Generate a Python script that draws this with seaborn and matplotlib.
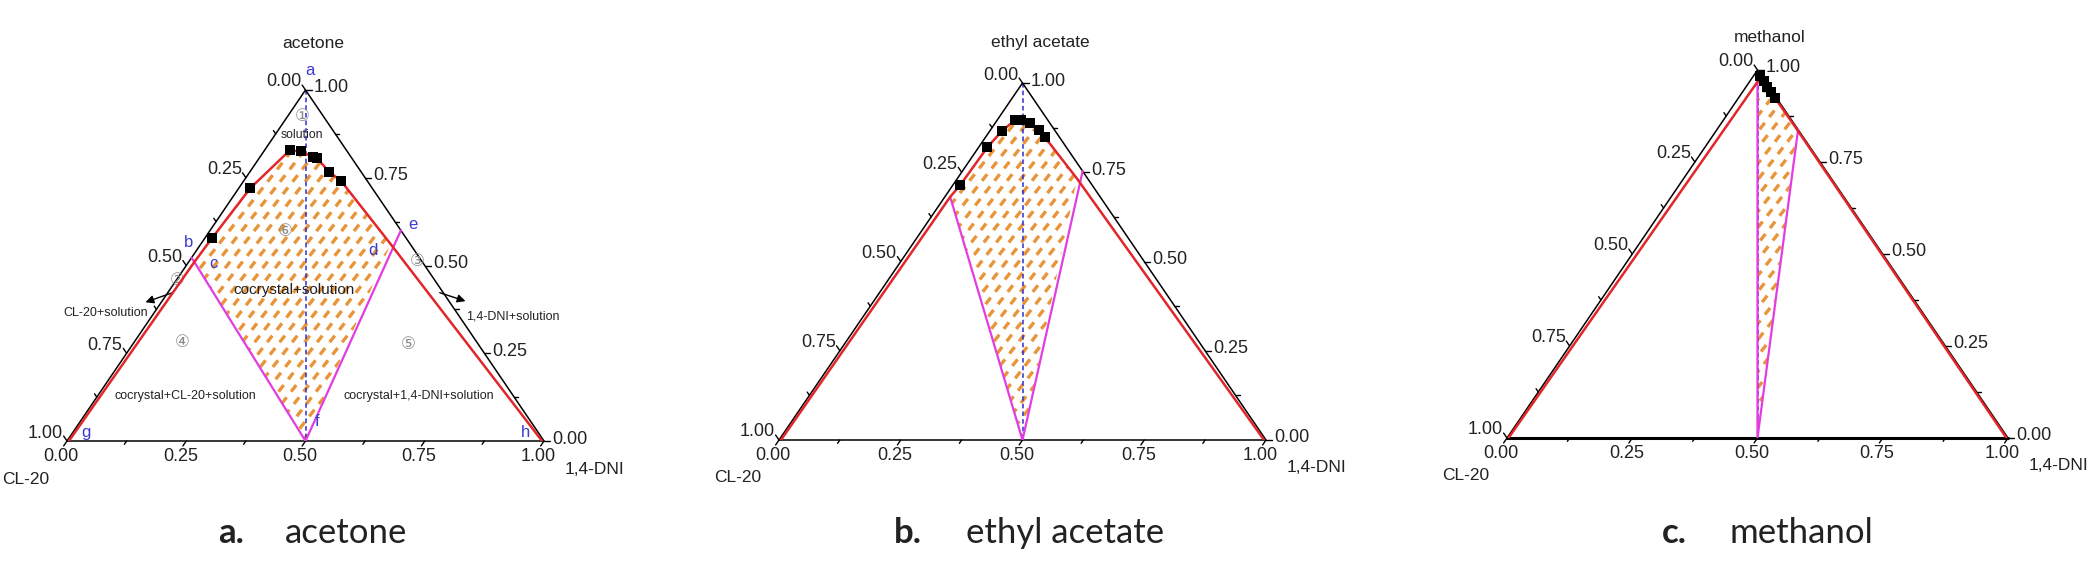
import numpy as np
import matplotlib
matplotlib.use("Agg")
import matplotlib.pyplot as plt
from matplotlib.patches import Polygon
import seaborn as sns

sns.set_style("white")
plt.rcParams["font.family"] = ["Liberation Sans", "DejaVu Sans", "Noto Sans CJK SC"]

W, HPX = 2098, 571
H = np.sqrt(3) / 2

# ---- data: compositions as (solvent fraction, 1,4-DNI fraction) ----
SOLVENTS = ["acetone", "ethyl acetate", "methanol"]
LETTERS = ["a.", "b.", "c."]

# measured solubility points (black squares)
ACE_SQ_SOLV = [0.577, 0.720, 0.828, 0.825, 0.809, 0.805, 0.767, 0.741]
ACE_SQ_DNI = [0.015, 0.024, 0.053, 0.078, 0.111, 0.122, 0.166, 0.204]
EA_SQ_SOLV = [0.713, 0.820, 0.866, 0.897, 0.897, 0.889, 0.867, 0.848]
EA_SQ_DNI = [0.015, 0.018, 0.025, 0.037, 0.048, 0.070, 0.100, 0.122]
MEOH_SQ_SOLV = [0.985, 0.970, 0.955, 0.940, 0.925]
MEOH_SQ_DNI = [0.012, 0.027, 0.042, 0.057, 0.072]

# invariant / key points of each phase diagram
ACE_KEY = {"g": (0.0, 0.004), "b": (0.522, 0.0), "c": (0.510, 0.012),
           "d": (0.561, 0.398), "e": (0.600, 0.400), "f": (0.0, 0.5), "h": (0.0, 0.996)}
EA_KEY = {"g": (0.0, 0.004), "c": (0.681, 0.011), "d": (0.732, 0.246),
          "e": (0.753, 0.247), "f": (0.0, 0.5), "h": (0.0, 0.996)}
MEOH_KEY = {"g": (0.0, 0.003), "c": (0.968, 0.016), "d": (0.838, 0.160),
            "e": (0.838, 0.162), "f": (0.0, 0.5), "h": (0.0, 0.997)}

SQ_SOLV = [ACE_SQ_SOLV, EA_SQ_SOLV, MEOH_SQ_SOLV]
SQ_DNI = [ACE_SQ_DNI, EA_SQ_DNI, MEOH_SQ_DNI]
KEYS = [ACE_KEY, EA_KEY, MEOH_KEY]

TICKS = np.arange(0, 1.0001, 0.125)

# ---- layout (pixels) ----
BOX_PX = [(67, 544, 90, 441), (779, 1266, 83, 440), (1507, 2008, 70, 438)]
TITLE_PX = [(313, 43), (1040, 43), (1770, 37)]
CAPTION_PX = [(218, 285), (894, 966), (1662, 1729)]

RED = "#e2262b"
MAGENTA = "#e23ce2"
BLUE = "#2e2ecf"
ORANGE = "#e8953a"
LBLUE = "#3b3bd0"
GRAY = "#8a8a8a"


def to_xy(s, d):
    s = np.asarray(s, dtype=float)
    d = np.asarray(d, dtype=float)
    return d + 0.5 * s, s * H


def line(ax, pts, **kw):
    xs, ys = to_xy([p[0] for p in pts], [p[1] for p in pts])
    sns.lineplot(x=xs, y=ys, sort=False, estimator=None, ax=ax, **kw)


def hatch(ax, verts, sx, sy):
    poly = Polygon(verts, closed=True, facecolor="none", edgecolor="none")
    ax.add_patch(poly)
    th = np.deg2rad(52)
    length = H * sy / np.sin(th)
    ux, uy = np.cos(th) / sx * length, np.sin(th) / sy * length
    for x0 in np.arange(-1.0, 1.2, 12.5 / sx):
        ln, = ax.plot([x0, x0 + ux], [0, uy], color=ORANGE, lw=2.4,
                      dashes=(2.5, 2.2), solid_capstyle="butt", zorder=1)
        ln.set_clip_path(poly)


def lab(ax, text, xy, off, **kw):
    ax.annotate(text, xy=xy, xytext=off, textcoords="offset pixels",
                annotation_clip=False, **kw)


fig = plt.figure(figsize=(W / 100, HPX / 100), dpi=100)

for i in range(3):
    x0, x1, ytop, ybot = BOX_PX[i]
    ax = fig.add_axes([x0 / W, 1 - ybot / HPX, (x1 - x0) / W, (ybot - ytop) / HPX])
    ax.set_xlim(0, 1)
    ax.set_ylim(0, H)
    ax.axis("off")
    sx = x1 - x0
    sy = (ybot - ytop) / H
    key = KEYS[i]

    # triangle frame
    ax.plot([0, 1, 0.5, 0], [0, 0, H, 0], color="black", lw=1.1, zorder=3, clip_on=False)
    if i == 2:
        ax.plot([0, 1], [0, 0], color="black", lw=2.2, zorder=3, clip_on=False)

    # ticks and tick labels
    vb = np.array([-sx / 2, -sy * H]); vb /= np.linalg.norm(vb)
    vl = np.array([-sx / 2, sy * H]); vl /= np.linalg.norm(vl)
    for t in TICKS:
        major = abs(t * 4 - round(t * 4)) < 1e-6
        L = 6 if major else 4
        # bottom axis: 1,4-DNI
        px, py = t, 0.0
        ax.plot([px, px + vb[0] * L / sx], [py, py + vb[1] * L / sy], color="black", lw=1, clip_on=False)
        if major:
            lab(ax, f"{t:.2f}", (px, py), (-6, -7), ha="center", va="top", fontsize=13, color="#222222")
        # left axis: CL-20
        px, py = to_xy(1 - t, 0.0)
        ax.plot([px, px + vl[0] * L / sx], [py, py + vl[1] * L / sy], color="black", lw=1, clip_on=False)
        if major:
            lab(ax, f"{t:.2f}", (px, py), (-4, 8), ha="right", va="center", fontsize=13, color="#222222")
        # right axis: solvent
        px, py = to_xy(t, 1 - t)
        ax.plot([px, px + L / sx], [py, py], color="black", lw=1, clip_on=False)
        if major:
            lab(ax, f"{t:.2f}", (px, py), (8, 2), ha="left", va="center", fontsize=13, color="#222222")

    lab(ax, "CL-20", (0, 0), (-41, -38), ha="center", va="center", fontsize=12.5, color="#222222")
    lab(ax, "1,4-DNI", (1, 0), (50, -28), ha="center", va="center", fontsize=12.5, color="#222222")

    squares = list(zip(SQ_SOLV[i], SQ_DNI[i]))

    # cocrystal + solution region (hatched)
    region = [key["c"]] + squares + [key["d"], key["f"]]
    vx, vy = to_xy([p[0] for p in region], [p[1] for p in region])
    hatch(ax, np.column_stack([vx, vy]), sx, sy)

    # blue dashed line from solvent apex to 1:1 point
    line(ax, [(1.0, 0.0), key["f"]], color=BLUE, lw=1.1, dashes=(3, 2), zorder=2)

    # tie lines (magenta)
    tie = ([key["b"]] if "b" in key else []) + [key["c"], key["f"], key["e"]]
    line(ax, tie, color=MAGENTA, lw=1.6, zorder=3)

    # solubility curve (red)
    curve = [key["g"], key["c"]] + squares + [key["d"], key["h"]]
    line(ax, curve, color=RED, lw=1.8, zorder=4)

    sx_pts, sy_pts = to_xy(SQ_SOLV[i], SQ_DNI[i])
    sns.scatterplot(x=sx_pts, y=sy_pts, marker="s", s=48, color="black",
                    edgecolor="black", linewidth=0, ax=ax, zorder=5)

    if i == 0:
        for name, xy in {"a": (0.509, 0.915), "b": (0.254, 0.489), "c": (0.306, 0.439),
                         "d": (0.641, 0.471), "e": (0.725, 0.533), "f": (0.524, 0.047),
                         "g": (0.040, 0.022), "h": (0.962, 0.022)}.items():
            ax.text(*xy, name, color=LBLUE, fontsize=12, ha="center", va="center", clip_on=False)
        for name, xy in {"①": (0.493, 0.800), "②": (0.231, 0.397), "③": (0.734, 0.442),
                         "④": (0.241, 0.244), "⑤": (0.715, 0.237), "⑥": (0.457, 0.516)}.items():
            ax.text(*xy, name, color=GRAY, fontsize=12, ha="center", va="center", clip_on=False)
        notes = {"solution": ((0.493, 0.755), 8.8),
                 "cocrystal+solution": ((0.476, 0.373), 11),
                 "CL-20+solution": ((0.082, 0.316), 9),
                 "1,4-DNI+solution": ((0.935, 0.306), 9),
                 "cocrystal+CL-20+solution": ((0.249, 0.111), 9),
                 "cocrystal+1,4-DNI+solution": ((0.738, 0.111), 9)}
        for txt, (xy, fs) in notes.items():
            ax.text(*xy, txt, color="#222222", fontsize=fs, ha="center", va="center",
                    clip_on=False, zorder=6)
        ax.annotate("", xy=(0.159, 0.340), xytext=(0.226, 0.368), annotation_clip=False,
                    arrowprops=dict(arrowstyle="-|>", color="black", lw=1, mutation_scale=12))
        ax.annotate("", xy=(0.841, 0.343), xytext=(0.776, 0.368), annotation_clip=False,
                    arrowprops=dict(arrowstyle="-|>", color="black", lw=1, mutation_scale=12))

    tx, ty = TITLE_PX[i]
    fig.text(tx / W, 1 - ty / HPX, SOLVENTS[i], ha="center", va="center", fontsize=12.5,
             color="#222222")

    cx0, cx1 = CAPTION_PX[i]
    fig.text(cx0 / W, 1 - 543 / HPX, LETTERS[i], family=["Lato", "DejaVu Sans"],
             fontweight="bold", fontsize=25, ha="left", va="baseline", color="#222222")
    fig.text(cx1 / W, 1 - 543 / HPX, SOLVENTS[i], family=["Lato", "DejaVu Sans"],
             fontsize=25, ha="left", va="baseline", color="#222222")

fig.savefig("out.png", dpi=100)
plt.close(fig)
